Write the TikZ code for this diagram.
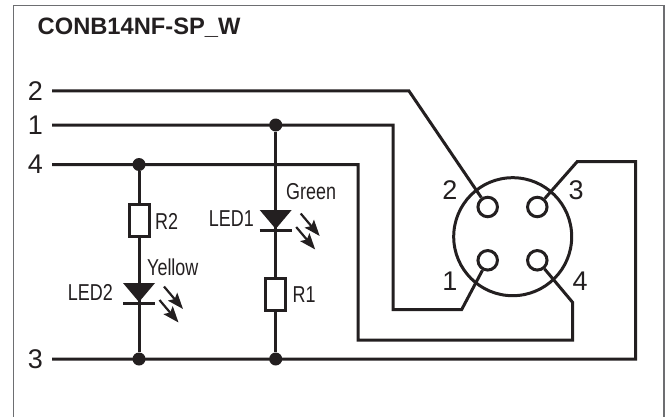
\documentclass[tikz,border=0pt]{standalone}
\usepackage{fontspec}
\setmainfont{Liberation Sans}
\newfontfamily\narrowfont[FakeStretch=0.78]{Liberation Sans}
\usetikzlibrary{arrows.meta}
\definecolor{inkdark}{HTML}{231F20}
\definecolor{framegray}{HTML}{6D6E71}
\tikzset{
  wire/.style={draw=inkdark,line width=3pt,line join=miter},
  res/.style={draw=inkdark,line width=3pt,fill=white,minimum width=20pt,minimum height=32pt,inner sep=0pt},
  pin/.style={circle,draw=inkdark,line width=3pt,fill=white,minimum size=19.5pt,inner sep=0pt},
  dot/.style={circle,fill=inkdark,minimum size=13pt,inner sep=0pt},
  biglab/.style={text=inkdark,font=\fontsize{27}{29}\selectfont,inner sep=0pt},
  smalllab/.style={text=inkdark,font=\narrowfont\fontsize{23}{25}\selectfont,inner sep=0pt},
  ray/.style={draw=inkdark,line width=2.2pt,-{Stealth[length=16pt,width=12pt,inset=3pt]}}
}
\newcommand{\ledsym}[1]{
  \fill[inkdark] (#1) ++(-16,-19) -- ++(32,0) -- ++(-16,19) -- cycle;
  \draw[inkdark,line width=3pt] (#1) ++(-16,1) -- ++(32,0);
  \draw[ray] (#1) ++(25,-15.5) -- ++(19,22.5);
  \draw[ray] (#1) ++(20.5,-2) -- ++(19,22.5);
}
\begin{document}
\begin{tikzpicture}[x=1pt, y=-1pt]
  \useasboundingbox (0,0) rectangle (671,417);
  \draw[framegray,line width=1.2pt] (13.5,417) -- (13.5,5.5) -- (664,5.5) -- (664,417);
  \node[anchor=west,text=inkdark,font=\bfseries\fontsize{23.7}{26}\selectfont,inner sep=0pt] (title) at (37.5,28) {CONB14NF-SP\_W};

  % connector
  \node[circle,draw=inkdark,line width=3pt,minimum size=118pt,inner sep=0pt] (plug) at (512.7,236.7) {};
  \node[pin] (pin2) at (487.7,207) {};
  \node[pin] (pin3) at (537.3,207) {};
  \node[pin] (pin1) at (487.7,260.3) {};
  \node[pin] (pin4) at (537.3,260.3) {};
  \node[biglab] (num2) at (450,190) {2};
  \node[biglab] (num3) at (576,190) {3};
  \node[biglab] (num1) at (450,281) {1};
  \node[biglab] (num4) at (580,281) {4};

  % left terminals
  \node[biglab,anchor=east] (in2) at (43,91) {2};
  \node[biglab,anchor=east] (in1) at (43,125) {1};
  \node[biglab,anchor=east] (in4) at (43,164.5) {4};
  \node[biglab,anchor=east] (in3) at (43,359) {3};
  \coordinate (start2) at (52,91);
  \coordinate (start1) at (52,125);
  \coordinate (start4) at (52,164.5);
  \coordinate (start3) at (52,359);

  % wires
  \draw[wire] (start2) -- (409,91) -- (pin2);
  \draw[wire] (start1) -- (393,125) -- (393,309.5) -- (461.7,309.5) -- (pin1);
  \draw[wire] (start4) -- (358,164.5) -- (358,340) -- (572.7,340) -- (572.7,302.5) -- (pin4);
  \draw[wire] (start3) -- (635.5,359) -- (635.5,161.5) -- (577.3,161.5) -- (pin3);

  % branches
  \node[dot] (top1) at (275.7,125) {};
  \node[dot] (top2) at (139,164.5) {};
  \node[dot] (bot1) at (275.7,359) {};
  \node[dot] (bot2) at (139,359) {};
  \node[res] (R1) at (275.7,294) {};
  \node[res] (R2) at (139,220) {};
  \coordinate (led1) at (275.7,229);
  \coordinate (led2) at (139,302);
  \draw[wire] (top1) -- (led1) -- (R1) -- (bot1);
  \draw[wire] (top2) -- (R2) -- (led2) -- (bot2);
  \ledsym{led1}
  \ledsym{led2}

  \node[smalllab,anchor=west] (labR2) at (155,221) {R2};
  \node[smalllab,anchor=west] (labR1) at (292.5,295) {R1};
  \node[smalllab,anchor=east] (labLED1) at (254,219) {LED1};
  \node[smalllab,anchor=east] (labLED2) at (113,292) {LED2};
  \node[smalllab,anchor=west] (labgreen) at (286,192) {Green};
  \node[smalllab,anchor=west] (labyellow) at (147,267) {Yellow};
\end{tikzpicture}
\end{document}
